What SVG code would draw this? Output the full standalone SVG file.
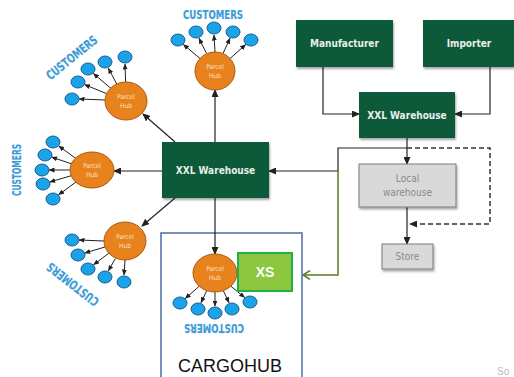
<svg xmlns="http://www.w3.org/2000/svg" width="514" height="377" viewBox="0 0 514 377">
<defs>
<style>
.box{fill:#0e5a3b;}
.boxt{fill:#e8efe9;font-family:"DejaVu Sans Condensed","DejaVu Sans",sans-serif;font-weight:bold;font-size:10px;text-anchor:middle;}
.gbox{fill:#d9d9d9;stroke:#7a7a7a;stroke-width:1;}
.gt{fill:#8a8a8a;font-family:"DejaVu Sans Condensed","DejaVu Sans",sans-serif;font-size:10px;text-anchor:middle;}
.hub{fill:#e8821c;stroke:#a85a12;stroke-width:1;}
.ht{fill:#fbe3c8;font-family:"DejaVu Sans Condensed","DejaVu Sans",sans-serif;font-size:6.5px;text-anchor:middle;}
.cu{fill:#1aa3e6;stroke:#1a5c94;stroke-width:1;}
.ct{fill:#3d9bd6;stroke:#cfe8f6;stroke-width:0.6;paint-order:stroke;font-family:"DejaVu Sans Condensed","DejaVu Sans",sans-serif;font-weight:bold;font-size:12.5px;text-anchor:middle;}
.la{stroke:#222;stroke-width:1.2;fill:none;marker-end:url(#ah);}
.sa{stroke:#222;stroke-width:1;fill:none;marker-end:url(#sah);}
</style>
<marker id="ah" markerUnits="userSpaceOnUse" markerWidth="8" markerHeight="7" refX="7" refY="3.5" orient="auto">
<path d="M0,0 L8,3.5 L0,7 z" fill="#222"/>
</marker>
<marker id="sah" markerUnits="userSpaceOnUse" markerWidth="6" markerHeight="5" refX="5.5" refY="2.5" orient="auto">
<path d="M0,0 L6,2.5 L0,5 z" fill="#222"/>
</marker>
<marker id="gah" markerUnits="userSpaceOnUse" markerWidth="9" markerHeight="10" refX="8" refY="5" orient="auto">
<path d="M1,0.5 L8,5 L1,9.5" fill="none" stroke="#5b7a2a" stroke-width="1.5"/>
</marker>
<filter id="sh" x="-10%" y="-10%" width="130%" height="140%">
<feDropShadow dx="1" dy="2" stdDeviation="1.2" flood-color="#000" flood-opacity="0.35"/>
</filter>
</defs>
<rect width="514" height="377" fill="#ffffff"/>

<g id="cargohub">
<rect x="161" y="233" width="141" height="160" fill="none" stroke="#4a6ea6" stroke-width="1.5"/>
<text x="230" y="372" font-family="'Liberation Sans',Arial,sans-serif" font-size="19" fill="#111" text-anchor="middle" textLength="104" lengthAdjust="spacingAndGlyphs">CARGOHUB</text>
</g>

<g id="connectors">
<polyline class="la" points="323,67 323,114 359,114"/>
<polyline class="la" points="490,67 490,114 455,114"/>
<line class="la" x1="407" y1="138" x2="407" y2="164"/>
<line class="la" x1="407" y1="207" x2="407" y2="244"/>
<polyline points="407,148 490,148 490,224 410,224" fill="none" stroke="#333" stroke-width="1.5" stroke-dasharray="5,3" marker-end="url(#ah)"/>
<polyline class="la" points="407,148 338,148 338,171 269,171"/>
<polyline points="338,171 338,275 303,275" fill="none" stroke="#5b7a2a" stroke-width="1.5" marker-end="url(#gah)"/>
<line class="la" x1="215" y1="142" x2="215" y2="90"/>
<line class="la" x1="175" y1="142" x2="143" y2="114"/>
<line class="la" x1="162" y1="171" x2="114" y2="171"/>
<line class="la" x1="175" y1="198" x2="142" y2="226"/>
<line class="la" x1="215" y1="198" x2="215" y2="254"/>
<line class="sa" x1="200" y1="58.5" x2="183.4" y2="44.5"/>
<line class="sa" x1="206.5" y1="53.5" x2="199" y2="38.3"/>
<line class="sa" x1="215" y1="52" x2="214" y2="35"/>
<line class="sa" x1="223" y1="53.5" x2="230" y2="38.3"/>
<line class="sa" x1="230" y1="58.5" x2="245.7" y2="44.6"/>
<line class="sa" x1="105" y1="100" x2="79" y2="99"/>
<line class="sa" x1="106.5" y1="93.6" x2="84.5" y2="84.6"/>
<line class="sa" x1="111" y1="88.5" x2="93.4" y2="73.5"/>
<line class="sa" x1="116.8" y1="84" x2="108.3" y2="68.2"/>
<line class="sa" x1="125.6" y1="82" x2="125" y2="64"/>
<line class="sa" x1="75.8" y1="158.4" x2="58.7" y2="146"/>
<line class="sa" x1="72" y1="164" x2="51.7" y2="157.1"/>
<line class="sa" x1="71" y1="170" x2="49" y2="170"/>
<line class="sa" x1="72" y1="175.5" x2="49.7" y2="182"/>
<line class="sa" x1="76" y1="182" x2="58.6" y2="194.8"/>
<line class="sa" x1="104" y1="241" x2="79" y2="240"/>
<line class="sa" x1="105" y1="247" x2="84.7" y2="253"/>
<line class="sa" x1="109" y1="253" x2="93.6" y2="264.8"/>
<line class="sa" x1="115.3" y1="258.5" x2="108.4" y2="270.9"/>
<line class="sa" x1="125" y1="260" x2="124" y2="275"/>
<line class="sa" x1="200" y1="285.5" x2="185.3" y2="298.5"/>
<line class="sa" x1="207" y1="290" x2="201" y2="302.7"/>
<line class="sa" x1="215" y1="292" x2="215" y2="306"/>
<line class="sa" x1="223" y1="290" x2="229" y2="302.7"/>
<line class="sa" x1="230" y1="285.5" x2="244.6" y2="297.5"/>
</g>

<g id="manufacturer">
<rect class="box" x="296" y="20" width="97" height="47" filter="url(#sh)"/>
<text class="boxt" x="344.5" y="47">Manufacturer</text>
</g>
<g id="importer">
<rect class="box" x="423" y="20" width="91" height="47" filter="url(#sh)"/>
<text class="boxt" x="469" y="47">Importer</text>
</g>
<g id="xxl-warehouse-right">
<rect class="box" x="359" y="92" width="96" height="46" filter="url(#sh)"/>
<text class="boxt" x="407" y="119">XXL Warehouse</text>
</g>
<g id="local-warehouse">
<rect class="gbox" x="359" y="164" width="97" height="43" filter="url(#sh)"/>
<text class="gt" x="407.5" y="182">Local</text>
<text class="gt" x="407.5" y="196">warehouse</text>
</g>
<g id="store">
<rect class="gbox" x="382" y="244" width="51" height="25" filter="url(#sh)"/>
<text class="gt" x="407.5" y="260">Store</text>
</g>
<g id="xxl-warehouse-main">
<rect class="box" x="162" y="142" width="107" height="56" filter="url(#sh)"/>
<text class="boxt" x="215.5" y="174">XXL Warehouse</text>
</g>

<g id="hub-top">
<ellipse class="hub" cx="215" cy="71" rx="20" ry="19"/>
<text class="ht" x="215" y="69">Parcel</text>
<text class="ht" x="215" y="78">Hub</text>
<ellipse class="cu" cx="178" cy="40" rx="7" ry="6"/>
<ellipse class="cu" cx="196" cy="32" rx="7" ry="6"/>
<ellipse class="cu" cx="214" cy="28" rx="7" ry="6"/>
<ellipse class="cu" cx="233" cy="32" rx="7" ry="6"/>
<ellipse class="cu" cx="251" cy="40" rx="7" ry="6"/>
<text class="ct" x="213" y="19" textLength="60" lengthAdjust="spacingAndGlyphs">CUSTOMERS</text>
</g>

<g id="hub-top-left">
<ellipse class="hub" cx="126" cy="101" rx="21" ry="19"/>
<text class="ht" x="126" y="99">Parcel</text>
<text class="ht" x="126" y="108">Hub</text>
<ellipse class="cu" cx="72" cy="99" rx="7" ry="6"/>
<ellipse class="cu" cx="78" cy="82" rx="7" ry="6"/>
<ellipse class="cu" cx="88" cy="69" rx="7" ry="6"/>
<ellipse class="cu" cx="105" cy="62" rx="7" ry="6"/>
<ellipse class="cu" cx="125" cy="57" rx="7" ry="6"/>
<text class="ct" transform="translate(72,58) rotate(-39)" x="0" y="4" textLength="62" lengthAdjust="spacingAndGlyphs">CUSTOMERS</text>
</g>

<g id="hub-left">
<ellipse class="hub" cx="92" cy="170" rx="22" ry="18"/>
<text class="ht" x="92" y="168">Parcel</text>
<text class="ht" x="92" y="177">Hub</text>
<ellipse class="cu" cx="53" cy="142" rx="7" ry="6"/>
<ellipse class="cu" cx="45" cy="155" rx="7" ry="6"/>
<ellipse class="cu" cx="42" cy="170" rx="7" ry="6"/>
<ellipse class="cu" cx="43" cy="184" rx="7" ry="6"/>
<ellipse class="cu" cx="53" cy="199" rx="7" ry="6"/>
<text class="ct" transform="translate(17,170) rotate(-90)" x="0" y="4" textLength="52" lengthAdjust="spacingAndGlyphs">CUSTOMERS</text>
</g>

<g id="hub-bottom-left">
<ellipse class="hub" cx="125" cy="241" rx="21" ry="19"/>
<text class="ht" x="125" y="239">Parcel</text>
<text class="ht" x="125" y="248">Hub</text>
<ellipse class="cu" cx="72" cy="240" rx="7" ry="6"/>
<ellipse class="cu" cx="78" cy="255" rx="7" ry="6"/>
<ellipse class="cu" cx="88" cy="269" rx="7" ry="6"/>
<ellipse class="cu" cx="105" cy="277" rx="7" ry="6"/>
<ellipse class="cu" cx="124" cy="282" rx="7" ry="6"/>
<text class="ct" transform="translate(73,284) rotate(218)" x="0" y="4" textLength="62" lengthAdjust="spacingAndGlyphs">CUSTOMERS</text>
</g>

<g id="hub-cargo">
<ellipse class="hub" cx="215" cy="273" rx="22" ry="19"/>
<text class="ht" x="215" y="271">Parcel</text>
<text class="ht" x="215" y="280">Hub</text>
<ellipse class="cu" cx="180" cy="303" rx="7" ry="6"/>
<ellipse class="cu" cx="198" cy="309" rx="7" ry="6"/>
<ellipse class="cu" cx="215" cy="313" rx="7" ry="6"/>
<ellipse class="cu" cx="232" cy="309" rx="7" ry="6"/>
<ellipse class="cu" cx="250" cy="302" rx="7" ry="6"/>
<text class="ct" transform="translate(214,328) rotate(180)" x="0" y="4" textLength="60" lengthAdjust="spacingAndGlyphs">CUSTOMERS</text>
</g>

<g id="xs">
<rect x="238" y="253" width="54" height="38" fill="#8dc63f" stroke="#1fb04b" stroke-width="2"/>
<text x="265" y="277" font-family="'Liberation Sans',Arial,sans-serif" font-weight="bold" font-size="14" fill="#ffffff" text-anchor="middle">XS</text>
</g>

<text x="497" y="375" font-family="'Liberation Sans',Arial,sans-serif" font-size="10" fill="#bbbbbb">So</text>
</svg>
